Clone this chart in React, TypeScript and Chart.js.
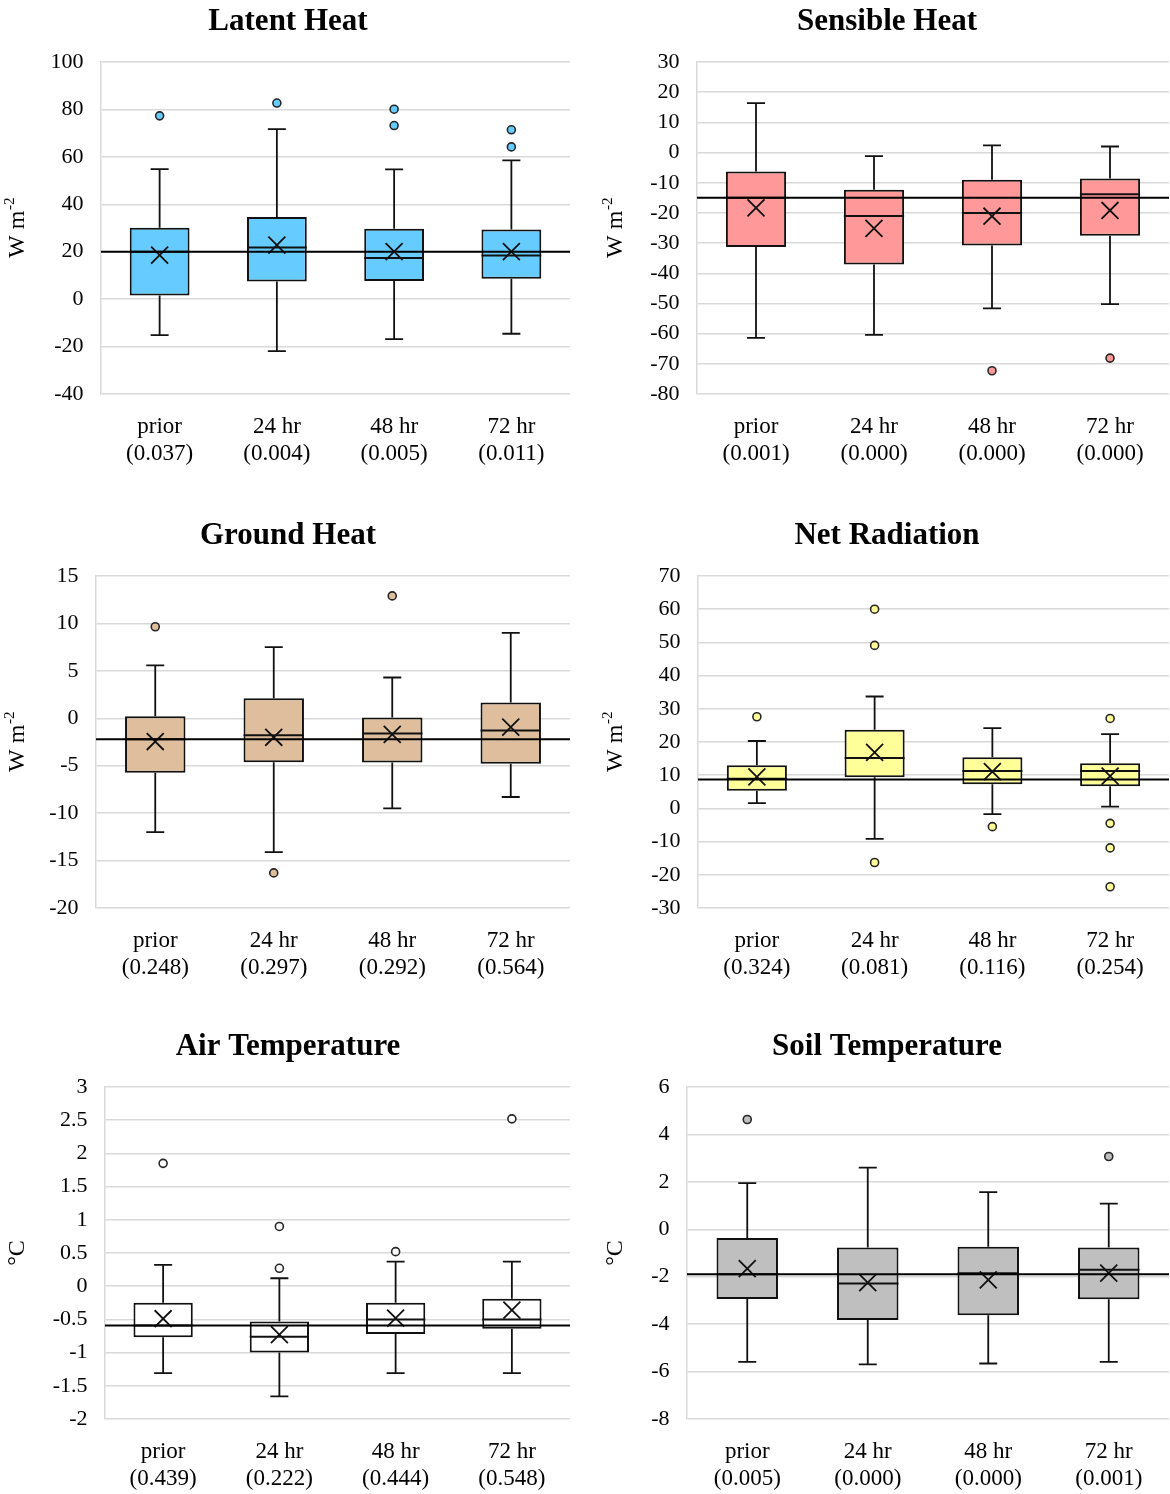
import React, { useEffect, useRef } from 'react';
import { Chart, registerables } from 'chart.js';

Chart.register(...registerables);

const SERIF = '"Liberation Serif", "Times New Roman", Times, serif';
Chart.defaults.font.family = SERIF;
Chart.defaults.color = '#000';

const categories = ['prior', '24 hr', '48 hr', '72 hr'];

// ---- Latent heat (W m-2)
const latentP = ['0.037', '0.004', '0.005', '0.011'];
const latentLow = [-15.2, -21.9, -16.9, -14.6];
const latentQ1 = [1.5, 7.4, 7.7, 8.6];
const latentMedian = [20, 21.8, 17.3, 18.4];
const latentQ3 = [30.1, 34.6, 29.7, 29.4];
const latentHigh = [54.8, 71.7, 54.7, 58.5];
const latentMean = [18.6, 22.8, 20.0, 20.0];
const latentOutliers = [[77.3], [82.7], [80.1, 73.2], [71.4, 64.2]];
const latentRef = 20;
const latentTicks = [-40, -20, 0, 20, 40, 60, 80, 100];

// ---- Sensible heat (W m-2)
const sensibleP = ['0.001', '0.000', '0.000', '0.000'];
const sensibleLow = [-61.4, -60.4, -51.6, -50.2];
const sensibleQ1 = [-31.3, -37.1, -30.8, -27.6];
const sensibleMedian = [-15.0, -21.0, -20.0, -13.8];
const sensibleQ3 = [-6.3, -12.3, -9.0, -8.6];
const sensibleHigh = [16.4, -1.2, 2.4, 2.0];
const sensibleMean = [-18.3, -25.1, -21.1, -19.2];
const sensibleOutliers = [[], [], [-72.3], [-68.1]];
const sensibleRef = -15.0;
const sensibleTicks = [-80, -70, -60, -50, -40, -30, -20, -10, 0, 10, 20, 30];

// ---- Ground heat (W m-2)
const groundP = ['0.248', '0.297', '0.292', '0.564'];
const groundLow = [-12.0, -14.1, -9.5, -8.3];
const groundQ1 = [-5.75, -4.63, -4.67, -4.8];
const groundMedian = [-2.2, -1.78, -1.6, -1.29];
const groundQ3 = [0.22, 2.1, 0.08, 1.67];
const groundHigh = [5.57, 7.5, 4.3, 9.0];
const groundMean = [-2.45, -2.0, -1.7, -0.94];
const groundOutliers = [[9.65], [-16.3], [12.9], []];
const groundRef = -2.2;
const groundTicks = [-20, -15, -10, -5, 0, 5, 10, 15];

// ---- Net radiation (W m-2)
const netP = ['0.324', '0.081', '0.116', '0.254'];
const netLow = [1.6, -9.2, -1.7, 0.55];
const netQ1 = [5.3, 9.4, 7.3, 6.7];
const netMedian = [8.9, 15.2, 11.3, 11.3];
const netQ3 = [13.0, 23.7, 15.4, 13.6];
const netHigh = [20.3, 33.7, 24.2, 22.4];
const netMean = [9.5, 16.9, 11.1, 9.7];
const netOutliers = [[27.6], [60.0, 49.1, -16.3], [-5.5], [27.1, -4.5, -11.9, -23.6]];
const netRef = 8.7;
const netTicks = [-30, -20, -10, 0, 10, 20, 30, 40, 50, 60, 70];

// ---- Air temperature (°C)
const airP = ['0.439', '0.222', '0.444', '0.548'];
const airLow = [-1.31, -1.66, -1.31, -1.31];
const airQ1 = [-0.77, -1.0, -0.72, -0.64];
const airMedian = [-0.59, -0.76, -0.5, -0.5];
const airQ3 = [-0.25, -0.53, -0.25, -0.19];
const airHigh = [0.32, 0.12, 0.37, 0.37];
const airMean = [-0.49, -0.73, -0.48, -0.36];
const airOutliers = [[1.85], [0.9, 0.27], [0.52], [2.52]];
const airRef = -0.59;
const airTicks = [-2, -1.5, -1, -0.5, 0, 0.5, 1, 1.5, 2, 2.5, 3];

// ---- Soil temperature (°C)
const soilP = ['0.005', '0.000', '0.000', '0.001'];
const soilLow = [-5.59, -5.7, -5.66, -5.59];
const soilQ1 = [-2.94, -3.83, -3.62, -2.95];
const soilMedian = [-1.9, -2.29, -1.85, -1.71];
const soilQ3 = [-0.37, -0.77, -0.74, -0.77];
const soilHigh = [1.95, 2.6, 1.57, 1.08];
const soilMean = [-1.66, -2.25, -2.13, -1.85];
const soilOutliers = [[4.63], [], [], [3.07]];
const soilRef = -1.9;
const soilTicks = [-8, -6, -4, -2, 0, 2, 4, 6];

type Stats = {
  title: string;
  unit: 'flux' | 'temp';
  fill: string;
  pvals: string[];
  low: number[];
  q1: number[];
  median: number[];
  q3: number[];
  high: number[];
  mean: number[];
  outliers: number[][];
  ref: number;
  ticks: number[];
};

type Frame = {
  left: number;
  top: number;
  padLeft: number;
  padRight: number;
  axisWidth: number;
  unitX: number;
};

const CANVAS_W = 585;
const CANVAS_H = 470;
const PLOT_TOP = 62;
const PLOT_BOTTOM = 394;
const TITLE_PAD_TOP = 3;
const LINE = '#111';

// Whiskers, medians and the reference level line for each box.
const boxExtras = {
  id: 'boxExtras',
  afterDatasetsDraw(chart: any, _args: any, opts: any) {
    const { ctx, chartArea } = chart;
    const xs = chart.scales.x;
    const ys = chart.scales.y;
    const boxes = chart.getDatasetMeta(0).data;
    ctx.save();
    ctx.strokeStyle = LINE;
    ctx.lineCap = 'butt';
    const cap = 9;
    for (let i = 0; i < opts.low.length; i++) {
      const x = xs.getPixelForValue(i);
      const half = boxes[i] ? boxes[i].width / 2 : 30;
      const yHi = ys.getPixelForValue(opts.high[i]);
      const yQ3 = ys.getPixelForValue(opts.q3[i]);
      const yQ1 = ys.getPixelForValue(opts.q1[i]);
      const yLo = ys.getPixelForValue(opts.low[i]);
      const yMed = ys.getPixelForValue(opts.median[i]);
      ctx.lineWidth = 1.8;
      ctx.beginPath();
      ctx.moveTo(x, yQ3);
      ctx.lineTo(x, yHi);
      ctx.moveTo(x - cap, yHi);
      ctx.lineTo(x + cap, yHi);
      ctx.moveTo(x, yQ1);
      ctx.lineTo(x, yLo);
      ctx.moveTo(x - cap, yLo);
      ctx.lineTo(x + cap, yLo);
      ctx.stroke();
      ctx.lineWidth = 2;
      ctx.beginPath();
      ctx.moveTo(x - half, yMed);
      ctx.lineTo(x + half, yMed);
      ctx.stroke();
    }
    const yRef = ys.getPixelForValue(opts.ref);
    ctx.strokeStyle = '#000';
    ctx.lineWidth = 2;
    ctx.beginPath();
    ctx.moveTo(chartArea.left, yRef);
    ctx.lineTo(chartArea.right, yRef);
    ctx.stroke();
    ctx.restore();
  },
};

// Rotated unit label on the left of the value axis.
const unitLabel = {
  id: 'unitLabel',
  afterDraw(chart: any, _args: any, opts: any) {
    const { ctx, chartArea } = chart;
    const yc = (chartArea.top + chartArea.bottom) / 2;
    ctx.save();
    ctx.translate(opts.x, yc);
    ctx.rotate(-Math.PI / 2);
    ctx.fillStyle = '#000';
    ctx.textBaseline = 'middle';
    ctx.textAlign = 'left';
    const mainFont = `24px ${SERIF}`;
    const supFont = `15px ${SERIF}`;
    if (opts.unit === 'flux') {
      ctx.font = mainFont;
      const main = 'W m';
      const w1 = ctx.measureText(main).width;
      ctx.font = supFont;
      const sup = '-2';
      const w2 = ctx.measureText(sup).width;
      const start = -(w1 + w2) / 2;
      ctx.font = mainFont;
      ctx.fillText(main, start, 0);
      ctx.font = supFont;
      ctx.fillText(sup, start + w1 + 0.5, -8);
    } else {
      ctx.font = mainFont;
      const t = '°C';
      const w = ctx.measureText(t).width;
      ctx.fillText(t, -w / 2, 0);
    }
    ctx.restore();
  },
};

function BoxPanel({ s, f }: { s: Stats; f: Frame }) {
  const ref = useRef<HTMLCanvasElement | null>(null);

  useEffect(() => {
    if (!ref.current) return;
    const outlierPoints: { x: string; y: number }[] = [];
    s.outliers.forEach((vals, i) => {
      vals.forEach((v) => outlierPoints.push({ x: categories[i], y: v }));
    });
    const chart = new Chart(ref.current, {
      type: 'bar',
      data: {
        labels: categories,
        datasets: [
          {
            type: 'bar',
            data: s.q1.map((v, i) => [v, s.q3[i]]) as any,
            backgroundColor: s.fill,
            borderColor: LINE,
            borderWidth: 2,
            borderSkipped: false,
            barPercentage: 0.51,
            categoryPercentage: 1,
            order: 3,
          } as any,
          {
            type: 'line',
            data: outlierPoints as any,
            showLine: false,
            pointStyle: 'circle',
            pointRadius: 4,
            pointBackgroundColor: s.fill,
            pointBorderColor: '#262626',
            pointBorderWidth: 1.6,
            order: 2,
          } as any,
          {
            type: 'line',
            data: s.mean,
            showLine: false,
            pointStyle: 'crossRot',
            pointRadius: 12,
            pointBorderColor: LINE,
            pointBorderWidth: 1.8,
            order: 1,
          } as any,
        ],
      },
      options: {
        animation: false,
        responsive: false,
        events: [],
        layout: {
          autoPadding: false,
          padding: { left: f.padLeft, right: f.padRight, top: 0, bottom: 0 },
        },
        plugins: {
          legend: { display: false },
          tooltip: { enabled: false },
          title: {
            display: true,
            text: s.title,
            color: '#000',
            font: { family: SERIF, size: 31, weight: 'bold', lineHeight: 1.2 },
            padding: { top: TITLE_PAD_TOP, bottom: PLOT_TOP - TITLE_PAD_TOP - 31 * 1.2 },
          },
          boxExtras: {
            low: s.low,
            q1: s.q1,
            median: s.median,
            q3: s.q3,
            high: s.high,
            ref: s.ref,
          },
          unitLabel: { x: f.unitX, unit: s.unit },
        } as any,
        scales: {
          x: {
            grid: { display: false, drawTicks: false },
            border: { display: false },
            ticks: {
              color: '#000',
              font: { family: SERIF, size: 23, lineHeight: 1.2 },
              padding: 19,
              maxRotation: 0,
              autoSkip: false,
              callback: (_v: any, i: number) => [categories[i], `(${s.pvals[i]})`],
            },
            afterFit: (scale: any) => {
              scale.height = CANVAS_H - PLOT_BOTTOM;
              scale.paddingLeft = 0;
              scale.paddingRight = 0;
            },
          },
          y: {
            min: s.ticks[0],
            max: s.ticks[s.ticks.length - 1],
            grid: { color: '#d9d9d9', lineWidth: 1.5, drawTicks: false },
            border: { display: true, color: '#d9d9d9', width: 1.5 },
            ticks: {
              color: '#000',
              font: { family: SERIF, size: 22 },
              padding: 17.5,
              callback: (v: any) => String(Math.round(Number(v) * 100) / 100),
            },
            afterBuildTicks: (scale: any) => {
              scale.ticks = s.ticks.map((v) => ({ value: v }));
            },
            afterFit: (scale: any) => {
              scale.width = f.axisWidth;
            },
          },
        } as any,
      },
      plugins: [boxExtras, unitLabel],
    });
    return () => chart.destroy();
  }, [s, f]);

  return (
    <canvas
      ref={ref}
      width={CANVAS_W}
      height={CANVAS_H}
      style={{ position: 'absolute', left: f.left, top: f.top, width: CANVAS_W, height: CANVAS_H }}
    />
  );
}

const panels: { s: Stats; f: Frame }[] = [
  {
    s: {
      title: 'Latent Heat', unit: 'flux', fill: '#66CCFF', pvals: latentP,
      low: latentLow, q1: latentQ1, median: latentMedian, q3: latentQ3, high: latentHigh,
      mean: latentMean, outliers: latentOutliers, ref: latentRef, ticks: latentTicks,
    },
    f: { left: 0, top: 0, padLeft: 6, padRight: 15, axisWidth: 95, unitX: 18 },
  },
  {
    s: {
      title: 'Sensible Heat', unit: 'flux', fill: '#FF9999', pvals: sensibleP,
      low: sensibleLow, q1: sensibleQ1, median: sensibleMedian, q3: sensibleQ3, high: sensibleHigh,
      mean: sensibleMean, outliers: sensibleOutliers, ref: sensibleRef, ticks: sensibleTicks,
    },
    f: { left: 585, top: 0, padLeft: 20, padRight: 1, axisWidth: 92, unitX: 31 },
  },
  {
    s: {
      title: 'Ground Heat', unit: 'flux', fill: '#DEBE9C', pvals: groundP,
      low: groundLow, q1: groundQ1, median: groundMedian, q3: groundQ3, high: groundHigh,
      mean: groundMean, outliers: groundOutliers, ref: groundRef, ticks: groundTicks,
    },
    f: { left: 0, top: 514, padLeft: 6, padRight: 15, axisWidth: 90, unitX: 18 },
  },
  {
    s: {
      title: 'Net Radiation', unit: 'flux', fill: '#FFFF99', pvals: netP,
      low: netLow, q1: netQ1, median: netMedian, q3: netQ3, high: netHigh,
      mean: netMean, outliers: netOutliers, ref: netRef, ticks: netTicks,
    },
    f: { left: 585, top: 514, padLeft: 20, padRight: 1, axisWidth: 93, unitX: 31 },
  },
  {
    s: {
      title: 'Air Temperature', unit: 'temp', fill: '#FFFFFF', pvals: airP,
      low: airLow, q1: airQ1, median: airMedian, q3: airQ3, high: airHigh,
      mean: airMean, outliers: airOutliers, ref: airRef, ticks: airTicks,
    },
    f: { left: 0, top: 1025, padLeft: 6, padRight: 15, axisWidth: 99, unitX: 18 },
  },
  {
    s: {
      title: 'Soil Temperature', unit: 'temp', fill: '#BFBFBF', pvals: soilP,
      low: soilLow, q1: soilQ1, median: soilMedian, q3: soilQ3, high: soilHigh,
      mean: soilMean, outliers: soilOutliers, ref: soilRef, ticks: soilTicks,
    },
    f: { left: 585, top: 1025, padLeft: 20, padRight: 1, axisWidth: 82, unitX: 31 },
  },
];

export default function App() {
  return (
    <div
      style={{
        position: 'fixed',
        left: 0,
        top: 0,
        width: 1170,
        height: 1494,
        overflow: 'hidden',
        background: '#fff',
      }}
    >
      {panels.map((p, i) => (
        <BoxPanel key={i} s={p.s} f={p.f} />
      ))}
    </div>
  );
}
